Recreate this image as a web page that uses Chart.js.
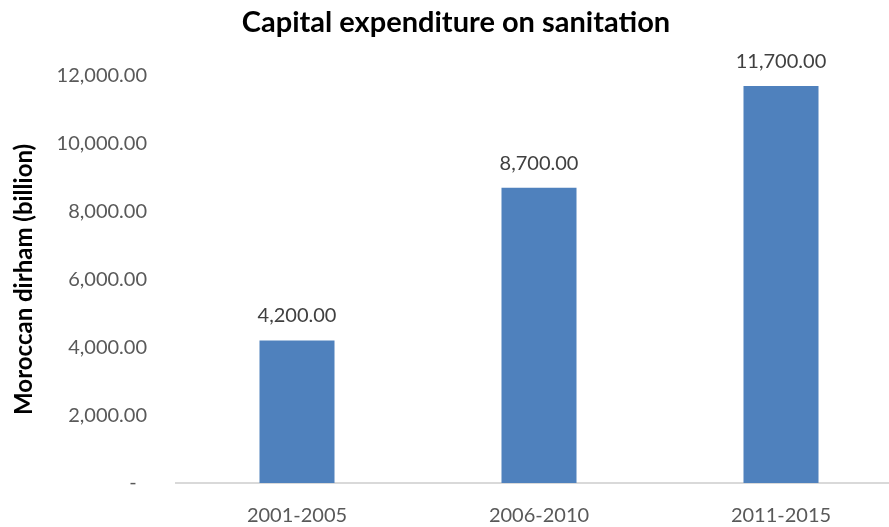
<!DOCTYPE html>
<html>
<head>
<meta charset="utf-8">
<script src="https://cdn.jsdelivr.net/npm/chart.js@4"></script>
<style>
  html, body { margin: 0; padding: 0; background: #fff; overflow: hidden; }
  canvas { display: block; }
</style>
</head>
<body>
<canvas id="chart" width="903" height="527"></canvas>
<script>
  const periods = ["2001-2005", "2006-2010", "2011-2015"];
  const spending = [4200, 8700, 11700];
  const yTicks = [0, 2000, 4000, 6000, 8000, 10000, 12000];

  const fmt = (v) =>
    v.toLocaleString("en-US", { minimumFractionDigits: 2, maximumFractionDigits: 2 });

  // value labels above each bar
  const barLabels = {
    id: "barLabels",
    afterDatasetsDraw(chart) {
      const ctx = chart.ctx;
      const meta = chart.getDatasetMeta(0);
      ctx.save();
      ctx.font = "20px Lato";
      ctx.fillStyle = "#404040";
      ctx.textAlign = "center";
      ctx.textBaseline = "alphabetic";
      meta.data.forEach((bar, i) => {
        ctx.fillText(fmt(spending[i]), bar.x, bar.y - 18);
      });
      ctx.restore();
    },
  };

  const ctx = document.getElementById("chart").getContext("2d");
  new Chart(ctx, {
    type: "bar",
    data: {
      labels: periods,
      datasets: [
        {
          data: spending,
          backgroundColor: "#4F81BD",
          categoryPercentage: 1,
          barPercentage: 0.31,
        },
      ],
    },
    options: {
      responsive: false,
      animation: false,
      layout: { padding: { left: 10, right: 1, top: 0, bottom: 0 } },
      plugins: {
        legend: { display: false },
        tooltip: { enabled: false },
        title: {
          display: true,
          text: "Capital expenditure on sanitation",
          color: "#000",
          font: { family: "Lato", size: 29, weight: "bold" },
          padding: { top: 5, bottom: 36 },
        },
      },
      scales: {
        x: {
          afterFit(scale) {
            scale.height = 44;
          },
          grid: { display: false, drawTicks: false },
          border: { display: true, color: "#d9d9d9", width: 2 },
          ticks: {
            color: "#595959",
            font: { family: "Lato", size: 20 },
            padding: 21,
          },
        },
        y: {
          min: 0,
          max: 12000,
          afterBuildTicks(scale) {
            scale.ticks = yTicks.map((v) => ({ value: v }));
          },
          afterFit(scale) {
            scale.width = 166;
          },
          grid: { display: false, drawTicks: false },
          border: { display: false },
          ticks: {
            color: "#595959",
            font: { family: "Lato", size: 20 },
            padding: 29,
            callback: (v) => (v === 0 ? "-  " : fmt(v)),
          },
          title: {
            display: true,
            text: "Moroccan dirham (billion)",
            color: "#000",
            font: { family: "Lato", size: 24, weight: "bold" },
            padding: { top: 0, bottom: 0 },
          },
        },
      },
    },
    plugins: [barLabels],
  });
</script>
</body>
</html>
